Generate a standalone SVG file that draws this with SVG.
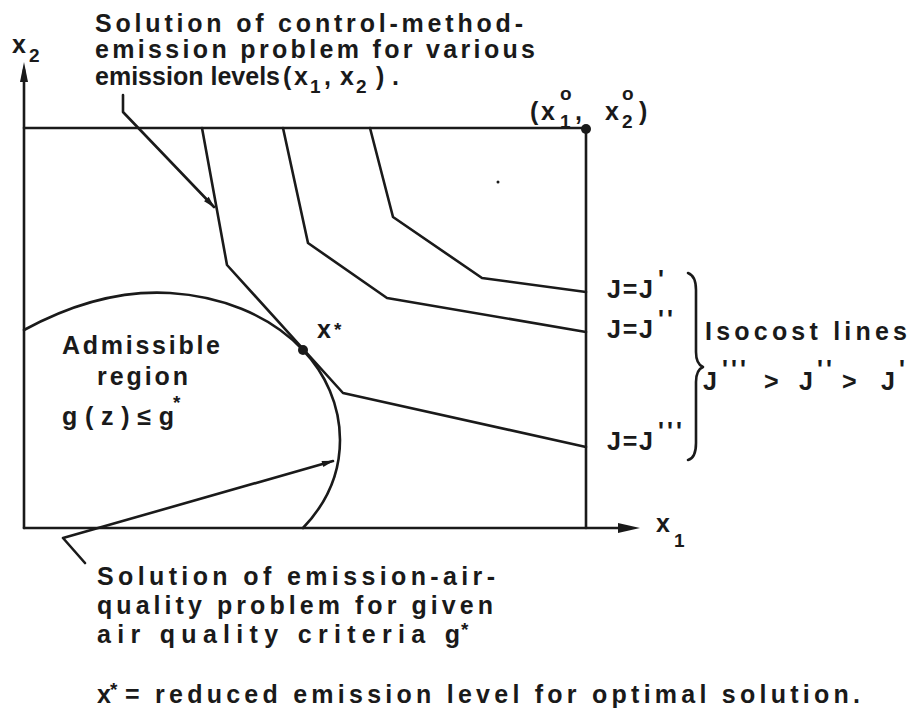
<svg xmlns="http://www.w3.org/2000/svg" width="915" height="713" viewBox="0 0 915 713">
<style>
  .ln { fill: none; stroke: #1a1a1a; stroke-width: 2.6; stroke-linejoin: round; stroke-linecap: round; }
  .t { font-family: "Liberation Sans", Arial, sans-serif; font-size: 25px; font-weight: bold; fill: #1a1a1a; }
  .s { font-family: "Liberation Sans", Arial, sans-serif; font-size: 19px; font-weight: bold; fill: #1a1a1a; }
  .dot { fill: #1a1a1a; }
</style>
<defs>
  <marker id="ah" viewBox="0 0 12 8" refX="11" refY="4" markerWidth="13" markerHeight="8" markerUnits="userSpaceOnUse" orient="auto">
    <path d="M0,0.8 L12,4 L0,7.2 z" fill="#1a1a1a"/>
  </marker>
</defs>
<rect width="915" height="713" fill="#ffffff"/>

<g id="axes">
  <path class="ln" d="M24,528 L24,70"/>
  <path d="M24,62 L28,82 L20,82 z" class="dot"/>
  <path class="ln" d="M24,528 L622,528"/>
  <path d="M640,528 L618,523 L618,533 z" class="dot"/>
  <path class="ln" d="M24,128 L586,128 L586,528"/>
  <circle cx="586" cy="129" r="5" class="dot"/>
  <circle cx="498" cy="182" r="1.5" class="dot"/>
</g>

<g id="isocost-lines">
  <path class="ln" d="M202,128 L227,265 L343,393 L586,447"/>
  <path class="ln" d="M283,128 L308,243 L387,298 L586,332"/>
  <path class="ln" d="M370,128 L393,217 L482,278 L586,292"/>
</g>

<g id="admissible-boundary">
  <path class="ln" d="M24,330 C70,305 120,290 170,293 C218,296 268,313 303,350 C325,373 340,405 340,440 C340,475 325,505 303,528"/>
  <circle cx="303" cy="350" r="5" class="dot"/>
</g>

<g id="connectors">
  <path class="ln" d="M123,95 L123,112 L214,207" marker-end="url(#ah)"/>
  <path class="ln" d="M85,563 L63,538 L333,461" marker-end="url(#ah)"/>
</g>

<g id="axis-labels">
  <text class="t" x="12" y="53" font-size="22">x</text>
  <text class="s" x="29" y="62">2</text>
  <text class="t" x="656" y="532" font-size="22">x</text>
  <text class="s" x="674" y="547">1</text>
</g>

<g id="origin-label">
  <text class="t" x="530" y="120">(</text>
  <text class="t" x="541" y="120">x</text>
  <text class="s" x="560" y="128">1</text>
  <text class="s" x="560" y="100">o</text>
  <text class="t" x="575" y="120">,</text>
  <text class="t" x="605" y="120">x</text>
  <text class="s" x="622" y="128">2</text>
  <text class="s" x="622" y="100">o</text>
  <text class="t" x="639" y="120">)</text>
</g>

<g id="top-note">
  <text class="t" x="95" y="32" textLength="428" lengthAdjust="spacing">Solution of control-method-</text>
  <text class="t" x="95" y="58" textLength="440" lengthAdjust="spacing">emission problem for various</text>
  <text class="t" x="95" y="85" textLength="185" lengthAdjust="spacing">emission levels</text>
  <text class="t" x="283" y="85">(</text>
  <text class="t" x="294" y="85">x</text>
  <text class="s" x="310" y="93">1</text>
  <text class="t" x="324" y="85">,</text>
  <text class="t" x="340" y="85">x</text>
  <text class="s" x="356" y="93">2</text>
  <text class="t" x="376" y="85">)</text>
  <text class="t" x="392" y="85">.</text>
</g>

<g id="x-star">
  <text class="t" x="317" y="338" font-size="23">x</text>
  <text class="s" x="334" y="336" font-size="26">*</text>
</g>

<g id="admissible-label">
  <text class="t" x="62" y="354" textLength="158" lengthAdjust="spacing">Admissible</text>
  <text class="t" x="97" y="385" textLength="91" lengthAdjust="spacing">region</text>
  <text class="t" x="62" y="425" textLength="112" lengthAdjust="spacing">g(z)≤g</text>
  <text class="s" x="173" y="409" font-size="28">*</text>
</g>

<g id="j-labels">
  <text class="t" x="607" y="298" textLength="46" lengthAdjust="spacing">J=J</text>
  <text class="t" x="658" y="288">'</text>
  <text class="t" x="607" y="338" textLength="46" lengthAdjust="spacing">J=J</text>
  <text class="t" x="658" y="328" letter-spacing="3">''</text>
  <text class="t" x="607" y="450" textLength="46" lengthAdjust="spacing">J=J</text>
  <text class="t" x="658" y="440" letter-spacing="3">'''</text>
  <path class="ln" d="M688,273 Q696,276 696,290 L696,352 Q696,364 703,367 Q696,370 696,382 L696,443 Q696,458 688,460"/>
</g>

<g id="isocost-label">
  <text class="t" x="705" y="340" textLength="202" lengthAdjust="spacing">Isocost lines</text>
  <text class="t" x="703" y="390">J</text>
  <text class="t" x="722" y="378" letter-spacing="3">'''</text>
  <text class="t" x="764" y="390">&gt;</text>
  <text class="t" x="799" y="390">J</text>
  <text class="t" x="817" y="378" letter-spacing="3">''</text>
  <text class="t" x="842" y="390">&gt;</text>
  <text class="t" x="881" y="390">J</text>
  <text class="t" x="899" y="378">'</text>
</g>

<g id="bottom-note">
  <text class="t" x="97" y="585" textLength="398" lengthAdjust="spacing">Solution of emission-air-</text>
  <text class="t" x="97" y="614" textLength="396" lengthAdjust="spacing">quality problem for given</text>
  <text class="t" x="97" y="643" textLength="363" lengthAdjust="spacing">air quality criteria g</text>
  <text class="s" x="461" y="636" font-size="24">*</text>
</g>

<g id="footnote">
  <text class="t" x="97" y="703">x</text>
  <text class="s" x="110" y="696" font-size="24">*</text>
  <text class="t" x="125" y="703" textLength="735" lengthAdjust="spacing">= reduced emission level for optimal solution.</text>
</g>
</svg>
